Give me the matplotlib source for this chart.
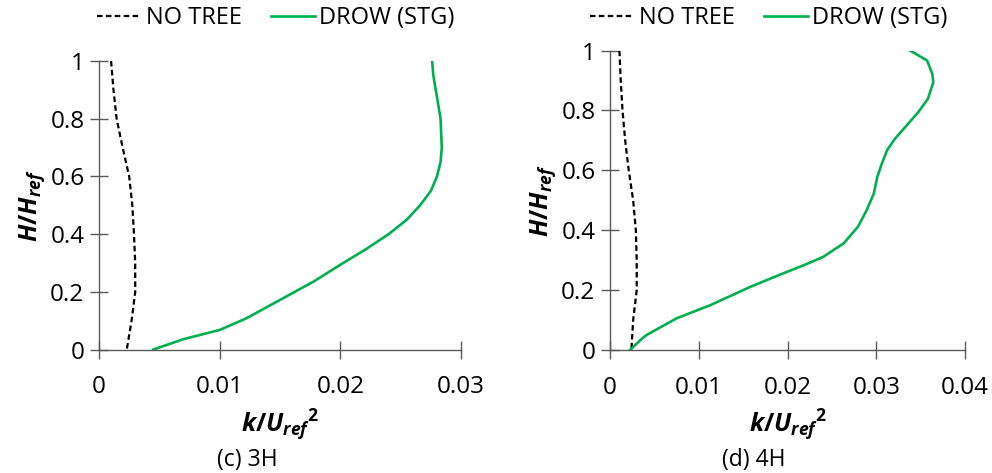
import matplotlib.pyplot as plt

plt.rcParams['font.family'] = ['Open Sans', 'DejaVu Sans']
plt.rcParams['mathtext.fontset'] = 'custom'
plt.rcParams['mathtext.it'] = 'Open Sans:italic:bold'
plt.rcParams['mathtext.rm'] = 'Open Sans:bold'
plt.rcParams['mathtext.bf'] = 'Open Sans:bold'

# (c) 3H
h_notree_c = [1.0, 0.9, 0.8, 0.7, 0.6, 0.5, 0.4, 0.3, 0.2, 0.1, 0.05, 0.0]
k_notree_c = [0.0010, 0.0012, 0.00146, 0.00196, 0.0025, 0.00276, 0.0029, 0.0030, 0.0030, 0.0027, 0.0025, 0.0023]
h_drow_c = [1.0, 0.95, 0.9, 0.8, 0.7, 0.65, 0.6, 0.55, 0.5, 0.45, 0.4, 0.35, 0.294,
            0.236, 0.172, 0.108, 0.068, 0.036, 0.0]
k_drow_c = [0.0276, 0.0277, 0.0279, 0.0283, 0.0284, 0.0283, 0.0280, 0.0275, 0.0266, 0.0255,
            0.0240, 0.0222, 0.0200, 0.0178, 0.0150, 0.0122, 0.0100, 0.0070, 0.0045]

# (d) 4H
h_notree_d = [1.0, 0.9, 0.8, 0.7, 0.6, 0.5, 0.4, 0.3, 0.2, 0.1, 0.0]
k_notree_d = [0.00105, 0.0012, 0.0014, 0.0017, 0.0021, 0.0026, 0.0029, 0.0030, 0.0030, 0.0026, 0.0024]
h_drow_d = [1.0, 0.967, 0.922, 0.894, 0.839, 0.794, 0.75, 0.706, 0.667, 0.622, 0.578, 0.522,
            0.467, 0.411, 0.356, 0.311, 0.283, 0.256, 0.211, 0.15, 0.106, 0.05, 0.033, 0.0]
k_drow_d = [0.0338, 0.0357, 0.0363, 0.0364, 0.0358, 0.0347, 0.0334, 0.0321, 0.0312, 0.0306,
            0.0301, 0.0297, 0.0289, 0.0279, 0.0263, 0.0240, 0.0218, 0.0195, 0.0158, 0.0113,
            0.0075, 0.0041, 0.0034, 0.00225]

green = '#00B050'
axcol = '#595959'

fig = plt.figure(figsize=(9.92, 4.73), dpi=100)
ax1 = fig.add_axes([0.0998, 0.261, 0.365, 0.610])
ax2 = fig.add_axes([0.615, 0.260, 0.358, 0.633])

panels = [
    (ax1, k_notree_c, h_notree_c, k_drow_c, h_drow_c, 0.03, [0, 0.01, 0.02, 0.03], '(c) 3H', 247, 276),
    (ax2, k_notree_d, h_notree_d, k_drow_d, h_drow_d, 0.04, [0, 0.01, 0.02, 0.03, 0.04], '(d) 4H', 754, 769),
]

for ax, kn, hn, kd, hd, xmax, xt, cap, capx, legx in panels:
    ax.plot(kn, hn, color='black', lw=1.6, ls=(0, (2.5, 1.5)), label='NO TREE',
            solid_joinstyle='round')
    ax.plot(kd, hd, color=green, lw=1.9, label='DROW (STG)', solid_joinstyle='round')
    ax.set_xlim(0, xmax)
    ax.set_ylim(0, 1)
    ax.set_xticks(xt)
    ax.set_xticklabels(['0' if v == 0 else f'{v:g}' for v in xt])
    ax.set_yticks([0, 0.2, 0.4, 0.6, 0.8, 1])
    ax.set_yticklabels(['0', '0.2', '0.4', '0.6', '0.8', '1'])
    for s in ['top', 'right']:
        ax.spines[s].set_visible(False)
    for s in ['left', 'bottom']:
        ax.spines[s].set_color(axcol)
        ax.spines[s].set_linewidth(1.0)
    ax.tick_params(direction='inout', length=13, width=1.0, color=axcol,
                   labelsize=17.5, pad=4)
    ax.tick_params(axis='x', pad=12)
    ax.set_xlabel(r'$k/U_{ref}{}^{2}$', fontsize=18, labelpad=6)
    ax.set_ylabel(r'$H/H_{ref}$', fontsize=18, labelpad=2)
    fig.text(capx / 992, 1 - 460 / 473, cap, ha='center', va='center', fontsize=16.5)
    ax.legend(loc='center', bbox_to_anchor=(legx / 992, 1 - 18 / 473),
              bbox_transform=fig.transFigure, ncol=2, frameon=False,
              fontsize=17, handlelength=1.85, handletextpad=0.2,
              columnspacing=1.25)

fig.savefig('out.png', dpi=100)
